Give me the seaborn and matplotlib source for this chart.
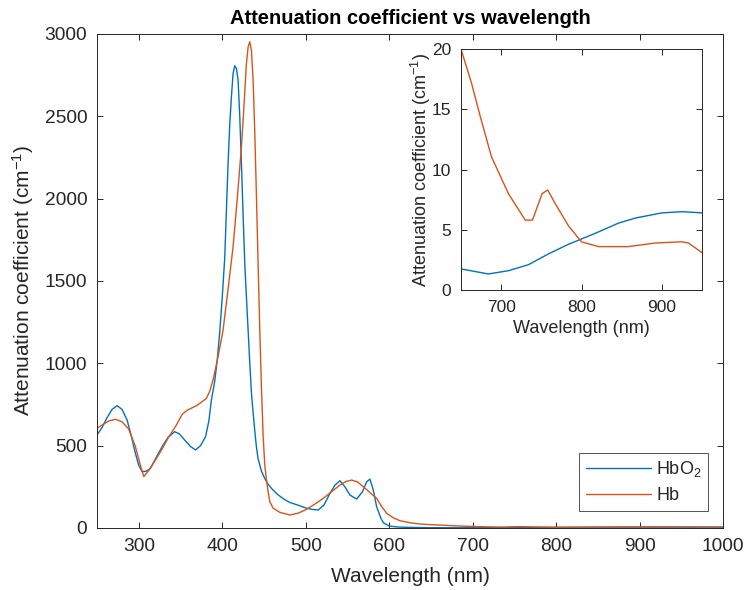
import matplotlib
matplotlib.use("Agg")
import matplotlib.pyplot as plt
import seaborn as sns

# HbO2 spectrum (nm, cm^-1)
hbo2_nm = [250, 256, 262, 268, 274, 280, 286, 291, 296, 300, 304, 309, 314, 320,
           328, 335, 343, 349, 355, 362, 368, 374, 380, 384, 387, 391, 394, 397,
           400, 403, 405, 407, 409, 411, 413, 415, 417, 419, 421, 423, 425, 427,
           429, 431, 433, 435, 437, 439, 441, 443, 447, 451, 455, 460, 466, 473,
           481, 490, 501, 508, 515, 522, 529, 535, 541, 547, 553, 561, 568, 573,
           577, 581, 585, 590, 593, 600, 610, 620, 650, 684, 709, 734, 759, 784,
           817, 846, 867, 900, 925, 950, 1000]
hbo2_mu = [565, 610, 670, 720, 743, 720, 656, 560, 453, 380, 342, 345, 362, 420,
           494, 550, 585, 570, 534, 495, 474, 500, 554, 650, 777, 890, 1020, 1190,
           1400, 1640, 1930, 2214, 2450, 2619, 2760, 2807, 2790, 2720, 2500, 2214, 1900, 1607,
           1400, 1202, 1000, 820, 700, 590, 490, 420, 345, 300, 265, 235, 205, 178,
           155, 140, 120, 113, 109, 140, 210, 260, 287, 250, 200, 176, 220, 280,
           297, 230, 129, 60, 32, 12, 6, 4, 1.75, 1.33, 1.6, 2.1, 3.0, 3.8,
           4.7, 5.55, 5.97, 6.4, 6.5, 6.4, 6.0]

# Hb spectrum (nm, cm^-1)
hb_nm = [250, 256, 264, 272, 280, 288, 296, 302, 306, 312, 320, 328, 335, 345,
         352, 358, 370, 381, 385, 389, 395, 401, 407, 413, 418, 423, 426, 429,
         431, 433, 435, 437, 439, 441, 443, 445, 447, 449, 451, 453, 455, 457,
         461, 469, 481, 491, 501, 511, 521, 531, 541, 548, 555, 562, 569, 577,
         585, 591, 597, 605, 613, 625, 637, 650, 663, 674, 688, 709, 730, 739,
         751, 758, 767, 784, 800, 821, 858, 892, 925, 933, 950, 1000]
hb_mu = [605, 625, 650, 660, 645, 600, 494, 380, 312, 350, 413, 480, 545, 625,
         690, 715, 745, 787, 830, 899, 1040, 1202, 1450, 1708, 2000, 2315, 2560, 2821,
         2920, 2953, 2900, 2720, 2400, 2012, 1600, 1202, 850, 560, 380, 291, 220, 160,
         120, 95, 79, 90, 113, 145, 180, 220, 261, 282, 291, 280, 251, 215,
         180, 130, 89, 62, 44, 32, 24, 20, 17.2, 14.4, 11.05, 8.0, 5.8, 5.8,
         8.0, 8.3, 7.2, 5.3, 4.0, 3.6, 3.6, 3.9, 4.0, 3.9, 3.1, 2.5]

labels = ["HbO$_2$", "Hb"]
colors = ["#0072BD", "#D95319"]

sns.set_theme(style="white")
plt.rcParams['font.family'] = ['Liberation Sans', 'DejaVu Sans']
plt.rcParams['mathtext.fontset'] = 'custom'
plt.rcParams['mathtext.rm'] = 'Liberation Sans'
plt.rcParams['mathtext.it'] = 'Liberation Sans'

dark = '#262626'

fig = plt.figure(figsize=(7.47, 5.9), dpi=100)
ax = fig.add_axes([0.1299, 0.1051, 0.8380, 0.8373])
ins = fig.add_axes([0.6171, 0.5085, 0.3227, 0.4084])


def style_axes(a, size, pad):
    for s in a.spines.values():
        s.set_color(dark)
        s.set_linewidth(0.7)
    a.tick_params(direction='in', length=4, width=0.7, color=dark,
                  top=True, right=True, labelsize=size, labelcolor=dark,
                  bottom=True, left=True, pad=pad)


# 主图
sns.lineplot(x=hbo2_nm, y=hbo2_mu, ax=ax, color=colors[0], label=labels[0],
             estimator=None, sort=False, linewidth=1.0)
sns.lineplot(x=hb_nm, y=hb_mu, ax=ax, color=colors[1], label=labels[1],
             estimator=None, sort=False, linewidth=1.0)
ax.set_xlim(250, 1000)
ax.set_ylim(0, 3000)
ax.set_xticks(range(300, 1001, 100))
ax.set_yticks(range(0, 3001, 500))
style_axes(ax, 13.8, 7)
ax.set_xlabel('Wavelength (nm)', fontsize=15, color=dark, labelpad=9)
ax.set_ylabel('Attenuation coefficient (cm$^{-1}$)', fontsize=15, color=dark, labelpad=6)
ax.set_title('Attenuation coefficient vs wavelength', fontsize=14.5,
             fontweight='bold', color='black', pad=7)

leg = ax.legend(loc='upper right', bbox_to_anchor=(0.976, 0.152),
                borderaxespad=0, fontsize=13, frameon=True, fancybox=False,
                handlelength=3.6, handletextpad=0.3, borderpad=0.35,
                labelspacing=0.45)
leg.get_frame().set_edgecolor(dark)
leg.get_frame().set_linewidth(0.7)
for t in leg.get_texts():
    t.set_color(dark)

# 放大的插图
sns.lineplot(x=hbo2_nm, y=hbo2_mu, ax=ins, color=colors[0],
             estimator=None, sort=False, linewidth=1.0, legend=False)
sns.lineplot(x=hb_nm, y=hb_mu, ax=ins, color=colors[1],
             estimator=None, sort=False, linewidth=1.0, legend=False)
ins.set_xlim(650, 950)
ins.set_ylim(0, 20)
ins.set_xticks([700, 800, 900])
ins.set_yticks([0, 5, 10, 15, 20])
style_axes(ins, 12.5, 7)
ins.set_xlabel('Wavelength (nm)', fontsize=13, color=dark, labelpad=4)
ins.set_ylabel('Attenuation coefficient (cm$^{-1}$)', fontsize=13, color=dark, labelpad=-1)

fig.savefig('out.png', dpi=100)
